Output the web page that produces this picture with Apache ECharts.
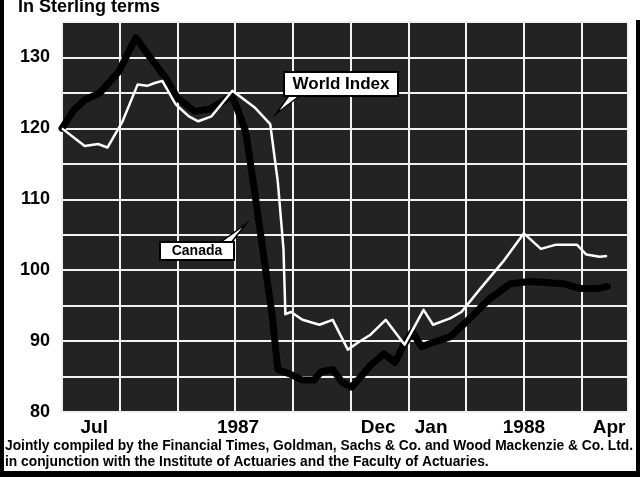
<!DOCTYPE html>
<html>
<head>
<meta charset="utf-8">
<script src="https://cdn.jsdelivr.net/npm/echarts@6/dist/echarts.min.js"></script>
<style>html,body{margin:0;padding:0;background:#fff;}#c{width:640px;height:477px;}</style>
</head>
<body>
<div id="c"></div>
<script>
// Days counted from 1 Jul 1987 (day 0) to 25 Apr 1988 (day 299)
const worldDays   = [0, 12, 19, 24, 32, 40, 45, 49, 53, 60, 67, 72, 79, 90, 102, 110, 114, 117, 118, 121, 127, 136, 143, 151, 157, 163, 171, 181, 191, 196, 205, 211, 221, 233, 244, 253, 261, 272, 277, 284, 288];
const worldValues = [120, 117.5, 117.8, 117.3, 121, 126.2, 126, 126.4, 126.7, 123.4, 121.7, 121, 121.7, 125.3, 122.9, 120.6, 112.5, 103, 93.8, 94.1, 93, 92.3, 93, 88.8, 89.9, 90.9, 93, 89.5, 94.4, 92.3, 93.2, 94.1, 97.4, 101.2, 105.2, 103, 103.6, 103.6, 102.2, 101.9, 102];
const canadaDays   = [0, 6, 12, 20, 30, 39, 46, 54, 61, 70, 78, 90, 97, 101, 106, 111, 114, 120, 127, 133, 137, 143, 148, 153, 158, 163, 170, 176, 180, 185, 190, 197, 205, 212, 226, 237, 247, 265, 274, 283, 288];
const canadaValues = [120, 122.5, 124, 125, 128, 132.8, 130.2, 127.4, 124.3, 122.4, 122.7, 124.6, 119.6, 112.5, 103, 93.7, 86, 85.4, 84.5, 84.5, 85.7, 86, 84.2, 83.5, 85, 86.6, 88.2, 87, 89.2, 91.3, 89.2, 89.9, 90.6, 92.3, 96, 98.1, 98.4, 98.1, 97.4, 97.4, 97.7];
const tickDays   = [17, 93, 167, 195, 244, 289];
const tickLabels = ['Jul', '1987', 'Dec', 'Jan', '1988', 'Apr'];
const yLabelled  = [80, 90, 100, 110, 120, 130];

const pairs = (xs, ys) => xs.map((d, i) => [d, ys[i]]);
const labelMap = {};
tickDays.forEach((d, i) => { labelMap[d] = tickLabels[i]; });

const chart = echarts.init(document.getElementById('c'), null, {renderer: 'canvas'});
const boldFont = '"Liberation Sans", Arial, sans-serif';
chart.setOption({
  animation: false,
  backgroundColor: '#fff',
  grid: {left: 62, right: 12, top: 22, bottom: 65, show: true, backgroundColor: '#232323', borderWidth: 0},
  xAxis: [
    {type: 'value', min: 0, max: 299, interval: 30.5, position: 'bottom',
     axisLine: {show: false}, axisTick: {show: false}, axisLabel: {show: false},
     splitLine: {show: true, lineStyle: {color: '#f2f2f2', width: 2}}},
    {type: 'value', min: 0, max: 299, interval: 1, position: 'bottom',
     axisLine: {show: false}, axisTick: {show: false}, splitLine: {show: false},
     axisLabel: {show: true, margin: 6, color: '#000', fontFamily: boldFont, fontWeight: 'bold', fontSize: 19,
       formatter: v => labelMap[v] || ''}}
  ],
  yAxis: {type: 'value', min: 80, max: 135, interval: 5,
    axisLine: {show: false}, axisTick: {show: false},
    axisLabel: {margin: 12, color: '#000', fontFamily: boldFont, fontWeight: 'bold', fontSize: 18,
      formatter: v => yLabelled.indexOf(v) >= 0 ? String(v) : ''},
    splitLine: {show: true, lineStyle: {color: '#f2f2f2', width: 2}}},
  series: [
    {name: 'Canada', type: 'line', xAxisIndex: 0, data: pairs(canadaDays, canadaValues), symbol: 'none',
     lineStyle: {color: '#000', width: 7, join: 'round', cap: 'round'}, z: 3},
    {name: 'World Index', type: 'line', xAxisIndex: 0, data: pairs(worldDays, worldValues), symbol: 'none',
     lineStyle: {color: '#fff', width: 2.5, join: 'round'}, z: 4}
  ],
  graphic: [
    {type: 'text', left: 18, top: -2, style: {text: 'In Sterling terms', font: 'bold 18px ' + boldFont, fill: '#000'}},
    // World Index callout
    {type: 'polygon', shape: {points: [[290, 94], [302, 94], [276, 114]]}, style: {fill: '#fff', stroke: '#000', lineWidth: 1.5}, z: 10},
    {type: 'rect', shape: {x: 284, y: 72, width: 114, height: 24}, style: {fill: '#fff', stroke: '#000', lineWidth: 2}, z: 11},
    {type: 'text', x: 341, y: 84, style: {text: 'World Index', font: 'bold 17px ' + boldFont, fill: '#000', align: 'center', verticalAlign: 'middle'}, z: 12},
    // Canada callout
    {type: 'polygon', shape: {points: [[218, 244], [230, 244], [246, 224]]}, style: {fill: '#fff', stroke: '#000', lineWidth: 1.5}, z: 10},
    {type: 'rect', shape: {x: 160, y: 242, width: 74, height: 18}, style: {fill: '#fff', stroke: '#000', lineWidth: 2}, z: 11},
    {type: 'text', x: 197, y: 251, style: {text: 'Canada', font: 'bold 14px ' + boldFont, fill: '#000', align: 'center', verticalAlign: 'middle'}, z: 12},
    // Footer
    {type: 'text', left: 5, top: 439, style: {text: 'Jointly compiled by the Financial Times, Goldman, Sachs & Co. and Wood Mackenzie & Co. Ltd.', font: 'bold 13.8px ' + boldFont, fill: '#000'}},
    {type: 'text', left: 5, top: 455, style: {text: 'in conjunction with the Institute of Actuaries and the Faculty of Actuaries.', font: 'bold 13.8px ' + boldFont, fill: '#000'}},
    // Frame
    {type: 'rect', shape: {x: 0, y: 0, width: 4, height: 477}, style: {fill: '#000'}},
    {type: 'rect', shape: {x: 0, y: 471, width: 640, height: 6}, style: {fill: '#000'}},
    {type: 'rect', shape: {x: 636, y: 20, width: 4, height: 457}, style: {fill: '#000'}}
  ]
});
</script>
</body>
</html>
